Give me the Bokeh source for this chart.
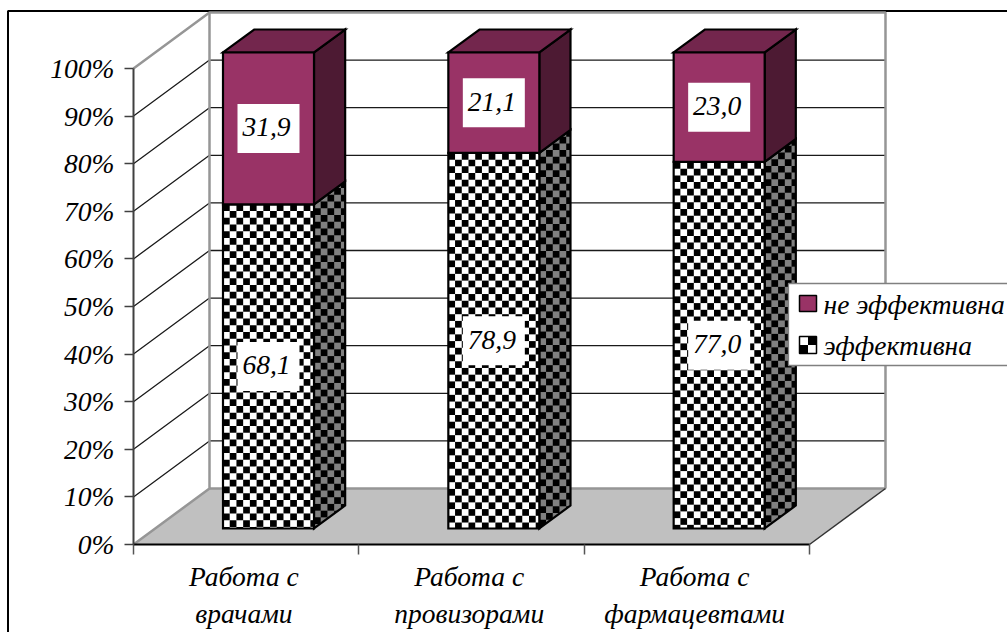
from bokeh.core.properties import value
from bokeh.embed import file_html
from bokeh.models import FixedTicker, LinearAxis, PrintfTickFormatter, Range1d
from bokeh.plotting import figure
from bokeh.resources import INLINE

# ---- chart values ----
categories = ["Работа с\nврачами", "Работа с\nпровизорами", "Работа с\nфармацевтами"]
effective = [68.1, 78.9, 77.0]
not_effective = [31.9, 21.1, 23.0]
effective_labels = ["68,1", "78,9", "77,0"]
not_effective_labels = ["31,9", "21,1", "23,0"]
legend_names = ["не эффективна", "эффективна"]
y_ticks = [0, 10, 20, 30, 40, 50, 60, 70, 80, 90, 100]

# ---- page geometry ----
W, H = 1007, 632
X0, Y0 = 133, 544          # pixel position of the front-left corner of the floor
UX = 225.33                # pixels per category
UY = 4.76                  # pixels per percentage point
DEPTH_X = 76 / UX          # full chart depth along x (category units)
DEPTH_Y = 56 / UY          # full chart depth along y (percent units)
BAR_W = 91 / UX
BAR_D0, BAR_D1 = 0.286, 0.696
BAR_SHIFT = 0.6 / UX
CELL = 6.72                # checker cell size in pixels

SERIF = value("Liberation Serif")
PURPLE_FRONT, PURPLE_SIDE, PURPLE_TOP = "#993366", "#4d1a33", "#73264d"
WALL = "#969696"


def dx(px):
    return (px - X0) / UX


def dy(py):
    return (Y0 - py) / UY


def proj(x, v, d):
    """Oblique projection of a point at a given depth (0 = front, 1 = back)."""
    return x + d * DEPTH_X, v + d * DEPTH_Y


def clip(poly, a, b):
    """Keep the part of a polygon on the left of the directed edge a -> b."""
    out = []
    side = lambda p: (b[0] - a[0]) * (p[1] - a[1]) - (b[1] - a[1]) * (p[0] - a[0])
    for i, p in enumerate(poly):
        q = poly[(i + 1) % len(poly)]
        sp, sq = side(p), side(q)
        if sp >= 0:
            out.append(p)
        if sp * sq < 0:
            t = sp / (sp - sq)
            out.append((p[0] + t * (q[0] - p[0]), p[1] + t * (q[1] - p[1])))
    return out


def checker(face):
    """Dark cells of a screen-aligned checkerboard, cut to a convex face (counter-clockwise)."""
    xs_all = [p[0] for p in face]
    ys_all = [p[1] for p in face]
    cw, ch = CELL / UX, CELL / UY
    x_left, y_top = min(xs_all), max(ys_all)
    xs, ys = [], []
    col = 0
    while x_left + col * cw < max(xs_all):
        row = 0
        while y_top - row * ch > min(ys_all):
            if (col + row) % 2 == 0:
                x = x_left + col * cw
                y = y_top - row * ch
                cell = [(x, y), (x, y - ch), (x + cw, y - ch), (x + cw, y)]
                for k in range(len(face)):
                    if cell:
                        cell = clip(cell, face[k], face[(k + 1) % len(face)])
                if len(cell) > 2:
                    xs.append([p[0] for p in cell])
                    ys.append([p[1] for p in cell])
            row += 1
        col += 1
    return xs, ys


p = figure(
    width=W, height=H, output_backend="svg", toolbar_location=None,
    x_range=Range1d(dx(0), dx(W)), y_range=Range1d(dy(H), dy(0)),
    min_border=0, outline_line_color=None, background_fill_color="white",
    border_fill_color="white",
)
p.grid.visible = False

# outer frame of the figure
p.line([dx(7.5), dx(7.5), dx(W)], [dy(H), dy(10.5), dy(10.5)], line_color="black", line_width=2)

# floor
floor = [proj(0, 0, 0), proj(3, 0, 0), proj(3, 0, 1), proj(0, 0, 1)]
p.patch([q[0] for q in floor], [q[1] for q in floor], fill_color="#c0c0c0", line_color=None)

# gridlines on the left and back walls
for v in y_ticks[1:-1]:
    a, b, c = proj(0, v, 0), proj(0, v, 1), proj(3, v, 1)
    p.line([a[0], b[0], c[0]], [a[1], b[1], c[1]], line_color="#1a1a1a", line_width=1.3)

# wall edges
a, b, c, d = proj(0, 100, 0), proj(0, 100, 1), proj(3, 100, 1), proj(3, 0, 1)
p.line([a[0], b[0], c[0], d[0]], [a[1], b[1], c[1], d[1]], line_color=WALL, line_width=2.5)
e, f = proj(0, 0, 1), proj(0, 0, 0)
p.line([b[0], e[0], f[0]], [b[1], e[1], f[1]], line_color=WALL, line_width=2.5)
p.line([e[0], d[0]], [e[1], d[1]], line_color=WALL, line_width=2.5)
g = proj(3, 0, 0)
p.line([g[0], d[0]], [g[1], d[1]], line_color="#333333", line_width=1.5)

# stacked 3D columns
for i, (low, high) in enumerate(zip(effective, not_effective)):
    xl = i + 0.5 + BAR_SHIFT - BAR_W / 2
    xr = xl + BAR_W

    def front(v0, v1):
        return [proj(xl, v0, BAR_D0), proj(xr, v0, BAR_D0), proj(xr, v1, BAR_D0), proj(xl, v1, BAR_D0)]

    def side(v0, v1):
        return [proj(xr, v0, BAR_D0), proj(xr, v0, BAR_D1), proj(xr, v1, BAR_D1), proj(xr, v1, BAR_D0)]

    def top(v):
        return [proj(xl, v, BAR_D0), proj(xr, v, BAR_D0), proj(xr, v, BAR_D1), proj(xl, v, BAR_D1)]

    def draw(face, color):
        p.patch([q[0] for q in face], [q[1] for q in face], fill_color=color, line_color=None)

    def edge(face):
        p.patch([q[0] for q in face], [q[1] for q in face], fill_alpha=0,
                line_color="black", line_width=2.2, line_join="miter")

    # lower segment: checkerboard on white (front) and grey (side)
    s = side(0, low)
    draw(s, "#808080")
    cx, cy = checker(s)
    p.patches(cx, cy, fill_color="black", line_color=None)
    edge(s)
    f_low = front(0, low)
    draw(f_low, "white")
    cx, cy = checker(f_low)
    p.patches(cx, cy, fill_color="black", line_color=None)
    edge(f_low)

    # upper segment
    s = side(low, low + high)
    draw(s, PURPLE_SIDE)
    edge(s)
    t = top(low + high)
    draw(t, PURPLE_TOP)
    edge(t)
    f_high = front(low, low + high)
    draw(f_high, PURPLE_FRONT)
    edge(f_high)

    # value labels on white plates
    xc = proj((xl + xr) / 2, 0, BAR_D0)[0]
    for mid, txt in ((proj(0, low / 2, BAR_D0)[1], effective_labels[i]),
                     (proj(0, low + high / 2, BAR_D0)[1], not_effective_labels[i])):
        p.rect([xc], [mid], width=62 / UX, height=49 / UY, fill_color="white", line_color=None)
        p.text([xc], [mid], text=[txt], text_font=SERIF, text_font_style="italic",
               text_font_size="27.5px", text_color="black", text_align="center",
               text_baseline="middle", x_offset=-2, y_offset=-1)

# legend
p.quad(left=[dx(788)], right=[dx(1010)], top=[dy(283)], bottom=[dy(365)],
       fill_color="white", line_color="#808080", line_width=1.3)
p.quad(left=[dx(799)], right=[dx(816)], top=[dy(295)], bottom=[dy(311)],
       fill_color=PURPLE_FRONT, line_color="black", line_width=1.5)
p.quad(left=[dx(799)], right=[dx(816)], top=[dy(336)], bottom=[dy(353)],
       fill_color="white", line_color="black", line_width=1.5)
p.quad(left=[dx(799), dx(807.5)], right=[dx(807.5), dx(816)], top=[dy(344.5), dy(336)],
       bottom=[dy(353), dy(344.5)], fill_color="black", line_color=None)
p.text([dx(823), dx(823)], [dy(304), dy(345)], text=legend_names, text_font=SERIF,
       text_font_style="italic", text_font_size="27.5px", text_color="black",
       text_baseline="middle")

# value axis, standing at the front-left edge of the floor
p.yaxis.fixed_location = 0
p.yaxis.bounds = (0, 100)
p.yaxis.ticker = FixedTicker(ticks=y_ticks)
p.yaxis.formatter = PrintfTickFormatter(format="%d%%")
p.yaxis.axis_line_color = "#404040"
p.yaxis.axis_line_width = 2
p.yaxis.major_tick_line_color = "#404040"
p.yaxis.major_tick_line_width = 1.5
p.yaxis.major_tick_in = 0
p.yaxis.major_tick_out = 9
p.yaxis.minor_tick_line_color = None
p.yaxis.major_label_standoff = 10
p.yaxis.major_label_text_font = "Liberation Serif"
p.yaxis.major_label_text_font_style = "italic"
p.yaxis.major_label_text_font_size = "27.5px"
p.yaxis.major_label_text_color = "black"

# category axis: names at the column centres, boundary ticks on a second axis
name_ticks = [k + 0.49 for k in range(len(categories))]
p.xaxis.fixed_location = 0
p.xaxis.bounds = (0, 3)
p.xaxis.ticker = FixedTicker(ticks=name_ticks)
p.xaxis.major_label_overrides = dict(zip(name_ticks, categories))
p.xaxis.axis_line_color = "black"
p.xaxis.axis_line_width = 2
p.xaxis.major_tick_line_color = None
p.xaxis.minor_tick_line_color = None
p.xaxis.major_label_standoff = 10
p.xaxis.major_label_text_font = "Liberation Serif"
p.xaxis.major_label_text_font_style = "italic"
p.xaxis.major_label_text_font_size = "27.5px"
p.xaxis.major_label_text_color = "black"
p.xaxis.major_label_text_line_height = 1.2

boundaries = LinearAxis(
    fixed_location=0,
    bounds=(0, 3),
    ticker=FixedTicker(ticks=[0, 1, 2, 3]),
    major_label_overrides={0: "", 1: "", 2: "", 3: ""},
    axis_line_color=None, minor_tick_line_color=None,
    major_tick_line_color="#555555", major_tick_line_width=1.5,
    major_tick_in=0, major_tick_out=10,
)
p.add_layout(boundaries, "below")

open("out.html", "w").write(file_html(p, INLINE))
